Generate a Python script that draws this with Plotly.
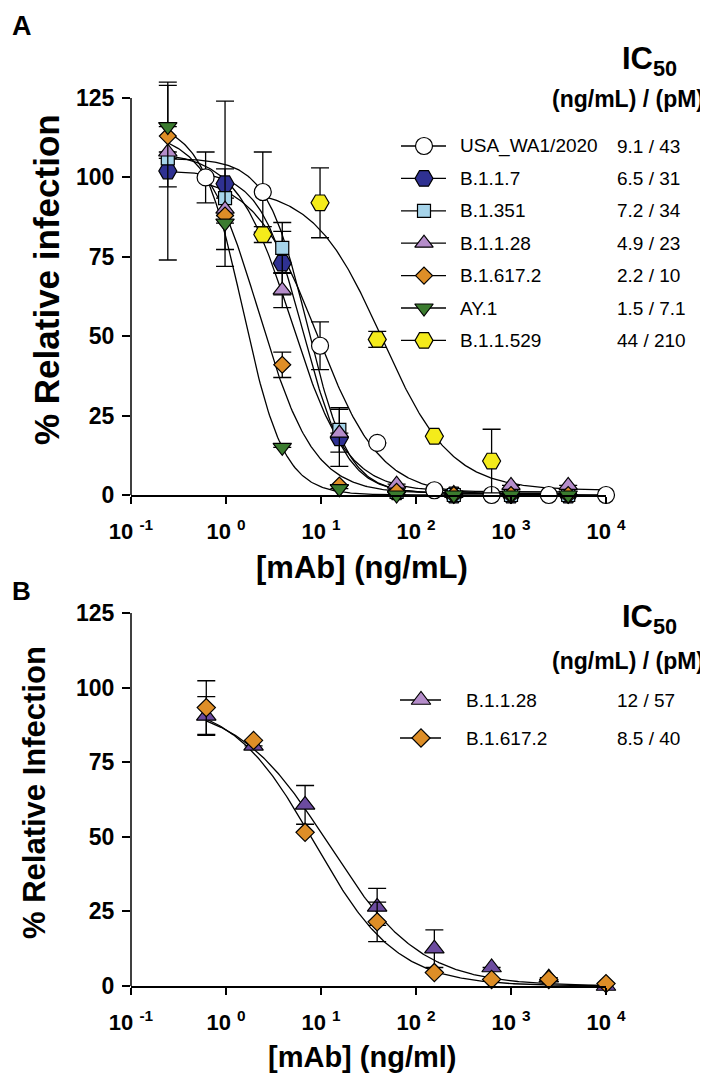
import numpy as np
import plotly.graph_objects as go

W, H = 708, 1075
FONT = "Liberation Sans, Arial, sans-serif"

# ===================================================================
# PANEL A DATA
# ===================================================================
conc_wa1 = [0.61, 2.44, 9.77, 39.1, 156, 625, 2500, 10000]
conc_var = [0.244, 0.977, 3.91, 15.6, 62.5, 250, 1000, 4000]
conc_omi = [2.44, 9.77, 39.1, 156, 625]

wa1_y = [100, 95.4, 47, 16.4, 1.5, 0, 0, 0]
wa1_err = [8, 12.6, 7.5, None, None, None, None, None]
b117_y = [102, 98, 73, 18, 1, 0, 0, 0]
b117_err = [28, 26, 10, 9, None, None, None, None]
b1351_y = [106, 93.5, 77.8, 20.5, 1, 0, 0, 0]
b1351_err = [None, None, 8, 7, None, None, None, None]
b1128_y = [108, 90, 64.5, 19.5, 3.4, 0.5, 3, 3]
b1128_err = [None, 12.7, 5.5, None, None, None, None, None]
b16172_y = [113, 88, 41, 3, 1, 0, 0, 0]
b16172_err = [16, None, 4, None, None, None, None, None]
ay1_y = [116, 85.6, 15, 2, 0, 0, 0, 0]
omi_y = [82, 92, 49, 18.5, 10.7]
omi_err = [2.5, 11, 2.5, None, 10]

names_a = ["USA_WA1/2020", "B.1.1.7", "B.1.351", "B.1.1.28", "B.1.617.2", "AY.1", "B.1.1.529"]
ic50_text_a = ["9.1 / 43", "6.5 / 31", "7.2 / 34", "4.9 / 23", "2.2 / 10", "1.5 / 7.1", "44 / 210"]

# fitted curve parameters (IC50 from legend, top/bottom/hill)
ic50_a = [9.1, 6.5, 7.2, 4.9, 2.2, 1.5, 44]
top_a = [101, 102, 106, 108, 115, 117, 97]
bottom_a = [0, 0.5, 0.5, 1, 0.5, 0, 1.5]
hill_a = [1.3, 1.9, 2.0, 1.5, 1.5, 2.0, 1.2]
curve_lo_a = [0.61, 0.244, 0.244, 0.244, 0.244, 0.244, 2.44]
curve_hi_a = [10000, 4000, 4000, 4000, 4000, 4000, 10000]

# ===================================================================
# PANEL B DATA
# ===================================================================
conc_b = [0.62, 1.95, 6.8, 39, 156, 625, 2500, 10000]
b1128_b_y = [90.5, 80.5, 60.7, 26.5, 12.5, 6.2, 2.8, 0]
b1128_b_err = [6.5, None, 6.5, 6.2, 6.3, None, None, None]
b16172_b_y = [93.3, 82.3, 51.5, 21.5, 4.5, 2.2, 2.2, 0.8]
b16172_b_err = [9, None, None, 6.6, None, None, None, None]

names_b = ["B.1.1.28", "B.1.617.2"]
ic50_text_b = ["12 / 57", "8.5 / 40"]
ic50_b = [12, 8.5]
top_b = [95, 96]
bottom_b = [0, 0]
hill_b = [0.9, 1.0]

# ===================================================================
# STYLES
# ===================================================================
sym_a = ["circle", "hexagon2", "square", "triangle-up", "diamond", "triangle-down", "hexagon2"]
col_a = ["white", "#2f3192", "#a6d4ea", "#b58dca", "#de8e27", "#3b7c2f", "#f4eb1b"]
size_a = [17, 18, 13, 16, 13, 16, 18]
sym_b = ["triangle-up", "diamond"]
col_b = ["#6c4b9f", "#de8e27"]
col_b_leg = ["#b58dca", "#de8e27"]
size_b = [17, 14]


def px(x):
    return x / W


def py(y):
    return 1 - y / H


def logistic(x, top, bottom, ic50, hill):
    return bottom + (top - bottom) / (1 + (x / ic50) ** hill)


fig = go.Figure()

# ----- panel A -----
series_a = [
    (conc_wa1, wa1_y, wa1_err),
    (conc_var, b117_y, b117_err),
    (conc_var, b1351_y, b1351_err),
    (conc_var, b1128_y, b1128_err),
    (conc_var, b16172_y, b16172_err),
    (conc_var, ay1_y, [None] * 8),
    (conc_omi, omi_y, omi_err),
]

for i in range(7):
    xs = np.logspace(np.log10(curve_lo_a[i]), np.log10(curve_hi_a[i]), 300)
    fig.add_trace(go.Scatter(
        x=xs, y=logistic(xs, top_a[i], bottom_a[i], ic50_a[i], hill_a[i]),
        mode="lines", line=dict(color="black", width=1.3),
        xaxis="x", yaxis="y", showlegend=False, hoverinfo="skip",
    ))

for i in [0, 6, 1, 2, 3, 4, 5]:
    cx, vy, err = series_a[i]
    fig.add_trace(go.Scatter(
        x=cx, y=vy, mode="markers",
        marker=dict(symbol=sym_a[i], size=size_a[i], color=col_a[i],
                    line=dict(color="black", width=1.2)),
        error_y=dict(type="data", array=err, color="black", thickness=1.3, width=9),
        cliponaxis=False, xaxis="x", yaxis="y", showlegend=False, name=names_a[i],
    ))

# ----- panel B -----
series_b = [(conc_b, b1128_b_y, b1128_b_err), (conc_b, b16172_b_y, b16172_b_err)]
for i in range(2):
    xs = np.logspace(np.log10(conc_b[0]), np.log10(conc_b[-1]), 300)
    fig.add_trace(go.Scatter(
        x=xs, y=logistic(xs, top_b[i], bottom_b[i], ic50_b[i], hill_b[i]),
        mode="lines", line=dict(color="black", width=1.3),
        xaxis="x2", yaxis="y2", showlegend=False, hoverinfo="skip",
    ))
for i in range(2):
    cx, vy, err = series_b[i]
    fig.add_trace(go.Scatter(
        x=cx, y=vy, mode="markers",
        marker=dict(symbol=sym_b[i], size=size_b[i], color=col_b[i],
                    line=dict(color="black", width=1.2)),
        error_y=dict(type="data", array=err, color="black", thickness=1.3, width=9),
        cliponaxis=False, xaxis="x2", yaxis="y2", showlegend=False, name=names_b[i],
    ))

# ----- custom legends (pixel overlay axes) -----
annotations = []


def legend_row(x_line0, x_sym, x_line1, y, sym, col, size, x_name, name, x_val, val):
    fig.add_trace(go.Scatter(
        x=[x_line0, x_line1], y=[y, y], mode="lines",
        line=dict(color="black", width=1.3), xaxis="x3", yaxis="y3",
        showlegend=False, hoverinfo="skip",
    ))
    fig.add_trace(go.Scatter(
        x=[x_sym], y=[y], mode="markers",
        marker=dict(symbol=sym, size=size, color=col, line=dict(color="black", width=1.2)),
        xaxis="x3", yaxis="y3", showlegend=False, hoverinfo="skip",
    ))
    annotations.append(dict(x=px(x_name), y=py(y), text=name, xanchor="left", yanchor="middle",
                            font=dict(size=19, family=FONT, color="black")))
    annotations.append(dict(x=px(x_val), y=py(y), text=val, xanchor="left", yanchor="middle",
                            font=dict(size=19, family=FONT, color="black")))


for i in range(7):
    legend_row(393, 416, 438, 138 + 32.4 * i, sym_a[i], col_a[i], size_a[i],
               450, names_a[i], 607, ic50_text_a[i])
for i in range(2):
    legend_row(392, 413, 433, 692 + 38 * i, sym_b[i], col_b_leg[i], size_b[i],
               456, names_b[i], 607, ic50_text_b[i])

texts = [
    ("A", 2, 18, 27, 0, "left"),
    ("B", 2, 583, 26, 0, "left"),
    ("% Relative infection", 38, 272, 35, -90, "center"),
    ("[mAb] (ng/mL)", 354, 559, 31, 0, "center"),
    ("% Relative Infection", 26, 785, 31, -90, "center"),
    ("[mAb] (ng/ml)", 354, 1049, 29, 0, "center"),
    ("IC<sub>50</sub>", 641, 53, 31, 0, "center"),
    ("(ng/mL) / (pM)", 698, 91, 23, 0, "right"),
    ("IC<sub>50</sub>", 641, 611, 31, 0, "center"),
    ("(ng/mL) / (pM)", 698, 653, 23, 0, "right"),
]
for t, x, y, s, ang, xa in texts:
    annotations.append(dict(x=px(x), y=py(y), text="<b>" + t + "</b>", textangle=ang,
                            xanchor=xa, yanchor="middle",
                            font=dict(size=s, family=FONT, color="black")))

for a in annotations:
    a.update(xref="paper", yref="paper", showarrow=False)

# ===================================================================
# AXES
# ===================================================================
x_ticks = [0.1, 1, 10, 100, 1000, 10000]
x_ticktext = ["<b>10 <sup>-1</sup></b>", "<b>10 <sup>0</sup></b>", "<b>10 <sup>1</sup></b>",
              "<b>10 <sup>2</sup></b>", "<b>10 <sup>3</sup></b>", "<b>10 <sup>4</sup></b>"]
y_ticks = [0, 25, 50, 75, 100, 125]
y_ticktext = ["<b>%d</b>" % v for v in y_ticks]


def xaxis_def(anchor):
    return dict(
        domain=[px(123), px(598)], type="log", range=[-1, 4], anchor=anchor,
        tickvals=x_ticks, ticktext=x_ticktext, ticks="outside", ticklen=7,
        tickwidth=1.5, tickcolor="black", showline=True, linewidth=1.5,
        linecolor="black", showgrid=False, zeroline=False, automargin=False,
        tickfont=dict(size=22, family=FONT, color="black"), ticklabelstandoff=9,
    )


def yaxis_def(anchor, y_zero, y_top):
    return dict(
        domain=[py(y_zero), py(y_top)], range=[0, 135], anchor=anchor,
        tickvals=y_ticks, ticktext=y_ticktext, ticks="outside", ticklen=8, tickwidth=1.5,
        tickcolor="black", showline=False, showgrid=False, zeroline=False,
        automargin=False, tickfont=dict(size=23, family=FONT, color="black"),
        ticklabelstandoff=3,
    )


fig.update_layout(
    template="none",
    width=W, height=H,
    margin=dict(l=0, r=0, t=0, b=0),
    paper_bgcolor="white", plot_bgcolor="rgba(0,0,0,0)",
    font=dict(family=FONT, color="black"),
    showlegend=False,
    xaxis=xaxis_def("y"),
    yaxis=yaxis_def("x", 487, 487 - 135 * 3.176),
    xaxis2=xaxis_def("y2"),
    yaxis2=yaxis_def("x2", 978, 978 - 135 * 2.984),
    xaxis3=dict(domain=[0, 1], range=[0, W], anchor="y3", visible=False),
    yaxis3=dict(domain=[0, 1], range=[H, 0], anchor="x3", visible=False),
    annotations=annotations,
    shapes=[
        dict(type="line", xref="paper", yref="y", x0=px(123), x1=px(123), y0=0, y1=125,
             line=dict(color="black", width=1.5)),
        dict(type="line", xref="paper", yref="y2", x0=px(123), x1=px(123), y0=0, y1=125,
             line=dict(color="black", width=1.5)),
    ],
)

fig.write_html("out.html")
